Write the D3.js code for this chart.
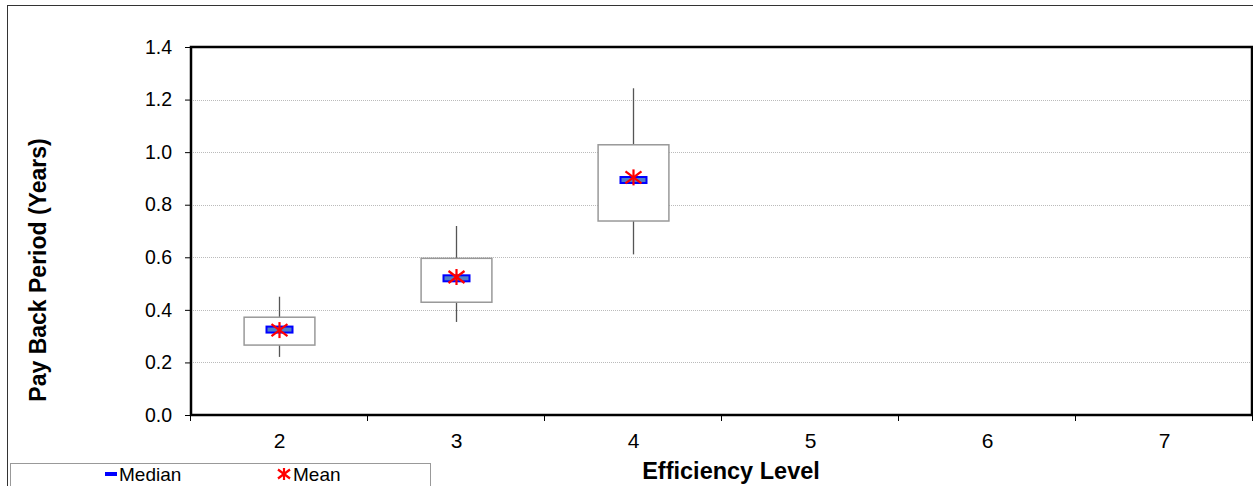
<!DOCTYPE html>
<html>
<head>
<meta charset="utf-8">
<script src="https://cdn.jsdelivr.net/npm/d3@7"></script>
<style>
  body { margin: 0; background: #fff; }
  text { font-family: "Liberation Sans", Arial, sans-serif; }
</style>
</head>
<body>
<svg id="chart" width="1253" height="486"></svg>
<script>
// efficiency levels and box stats
let levels = ["2", "3", "4", "5", "6", "7"]
let lowWhisker = [0.221, 0.354, 0.611]
let q1 = [0.266, 0.429, 0.738]
let medians = [0.325, 0.520, 0.894]
let q3 = [0.372, 0.596, 1.028]
let highWhisker = [0.450, 0.719, 1.243]
let means = [0.323, 0.525, 0.904]
let yTicks = [0, 0.2, 0.4, 0.6, 0.8, 1.0, 1.2, 1.4]

let margin = {top: 47, right: 0, bottom: 71, left: 191}
let width = 1253, height = 486
let svg = d3.select("#chart")

let boxes = levels.slice(0, 3).map((l, i) => ({
  level: l, lo: lowWhisker[i], q1: q1[i], med: medians[i],
  q3: q3[i], hi: highWhisker[i], mean: means[i]
}))

let scales = {
  x: d3.scaleBand().domain(levels).range([margin.left, width - margin.right]),
  y: d3.scaleLinear().domain([0, 1.4]).range([height - margin.bottom, margin.top])
}

// outer frame
svg.append("rect")
  .attr("x", 7.5).attr("y", 5.5)
  .attr("width", 1260).attr("height", 500)
  .attr("fill", "none").attr("stroke", "#333").attr("stroke-width", 1)

// gridlines
svg.append("g")
  .selectAll("line")
  .data(yTicks.filter(d => d > 0 && d < 1.4)).enter()
  .append("line")
  .attr("x1", margin.left).attr("x2", width)
  .attr("y1", d => Math.round(scales.y(d)) + 0.5)
  .attr("y2", d => Math.round(scales.y(d)) + 0.5)
  .attr("stroke", "#bbb").attr("stroke-dasharray", "1,1")

// y axis
let yAxis = d3.axisLeft(scales.y).tickValues(yTicks).tickFormat(d3.format(".1f")).tickSize(6).tickPadding(13)
let gy = svg.append("g")
  .attr("transform", `translate(${margin.left}, 0)`)
  .call(yAxis)
gy.select(".domain").remove()
gy.selectAll("text").attr("font-size", 19.5).attr("fill", "#000").attr("font-family", "Liberation Sans, Arial, sans-serif")

// x axis: ticks at band boundaries
let bounds = levels.map(l => scales.x(l)).concat([width])
let gx = svg.append("g").attr("transform", `translate(0, ${height - margin.bottom})`)
gx.selectAll("line")
  .data(bounds).enter()
  .append("line")
  .attr("x1", d => d - 0.5).attr("x2", d => d - 0.5)
  .attr("y1", 0).attr("y2", 6)
  .attr("stroke", "#000")
gx.selectAll("text")
  .data(levels).enter()
  .append("text")
  .attr("x", d => scales.x(d) + scales.x.bandwidth() / 2)
  .attr("y", 33)
  .attr("text-anchor", "middle")
  .attr("font-size", 21)
  .text(d => d)

// plot frame
svg.append("rect")
  .attr("x", margin.left).attr("y", margin.top)
  .attr("width", width - margin.left - 1)
  .attr("height", height - margin.bottom - margin.top)
  .attr("fill", "none").attr("stroke", "#000").attr("stroke-width", 2.5)

// boxes
let bw = scales.x.bandwidth() * 0.4
let g = svg.append("g").selectAll("g")
  .data(boxes).enter()
  .append("g")
  .attr("transform", d => `translate(${scales.x(d.level) + scales.x.bandwidth() / 2}, 0)`)

g.append("line")
  .attr("x1", 0).attr("x2", 0)
  .attr("y1", d => scales.y(d.hi)).attr("y2", d => scales.y(d.lo))
  .attr("stroke", "#555").attr("stroke-width", 1.3)
g.append("rect")
  .attr("x", -bw / 2).attr("width", bw)
  .attr("y", d => scales.y(d.q3))
  .attr("height", d => scales.y(d.q1) - scales.y(d.q3))
  .attr("fill", "#fff").attr("stroke", "#999").attr("stroke-width", 1.5)
g.append("rect")
  .attr("x", -13).attr("width", 26)
  .attr("y", d => scales.y(d.med) - 3).attr("height", 6)
  .attr("fill", "#4f7fc9").attr("stroke", "#0000ff").attr("stroke-width", 2)

// six-spoke asterisk: vertical bar plus an X
function asterisk(sel, r) {
  sel.append("line").attr("x1", 0).attr("x2", 0).attr("y1", -r).attr("y2", r)
  sel.append("line").attr("x1", -r).attr("x2", r).attr("y1", -r * 0.75).attr("y2", r * 0.75)
  sel.append("line").attr("x1", -r).attr("x2", r).attr("y1", r * 0.75).attr("y2", -r * 0.75)
  sel.attr("stroke", "#ff0000").attr("stroke-width", 2.2)
}
g.append("g")
  .attr("transform", d => `translate(0, ${scales.y(d.mean)})`)
  .call(asterisk, 8)

// axis titles
svg.append("text")
  .attr("transform", `translate(46, ${(margin.top + height - margin.bottom) / 2 + 39}) rotate(-90)`)
  .attr("text-anchor", "middle")
  .attr("font-size", 23).attr("font-weight", "bold")
  .text("Pay Back Period (Years)")
svg.append("text")
  .attr("x", 731).attr("y", 479)
  .attr("text-anchor", "middle")
  .attr("font-size", 23.5).attr("font-weight", "bold")
  .text("Efficiency Level")

// legend
let legend = svg.append("g")
legend.append("rect")
  .attr("x", 10.5).attr("y", 463.5).attr("width", 420).attr("height", 40)
  .attr("fill", "#fff").attr("stroke", "#999")
legend.append("rect")
  .attr("x", 105).attr("y", 472).attr("width", 12).attr("height", 4)
  .attr("fill", "#0000ff")
legend.append("text")
  .attr("x", 119).attr("y", 481).attr("font-size", 19).text("Median")
legend.append("g")
  .attr("transform", "translate(284, 474)")
  .call(asterisk, 6)
legend.append("text")
  .attr("x", 293).attr("y", 481).attr("font-size", 19).text("Mean")
</script>
</body>
</html>
